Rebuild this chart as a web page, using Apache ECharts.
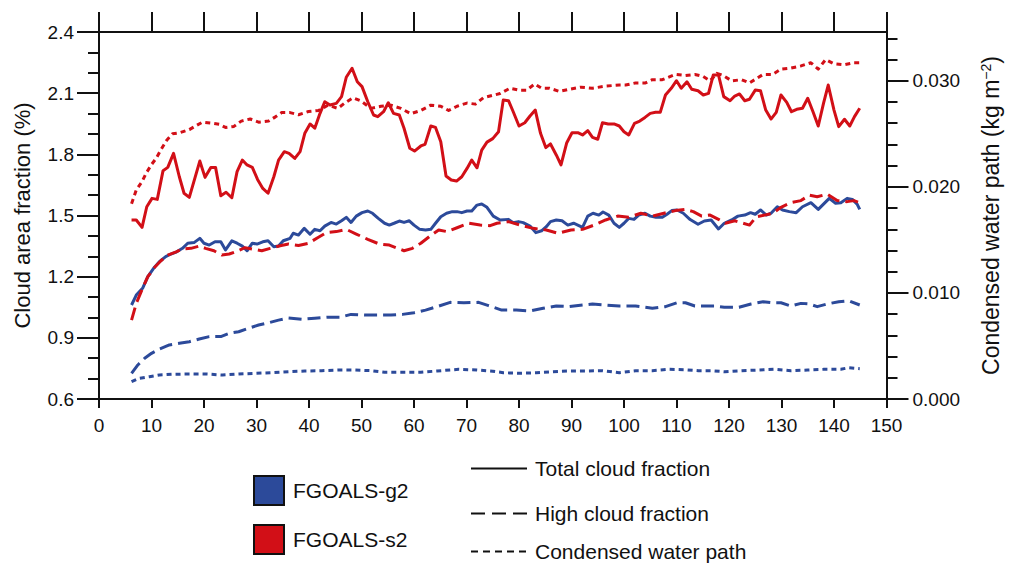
<!DOCTYPE html>
<html>
<head>
<meta charset="utf-8">
<script src="https://cdn.jsdelivr.net/npm/echarts@6/dist/echarts.min.js"></script>
<style>
  html, body { margin: 0; padding: 0; background: #ffffff; }
  #chart { width: 1010px; height: 566px; }
</style>
</head>
<body>
<div id="chart"></div>
<script>
// Model years on the x axis, cloud fractions (%) on the left axis,
// condensed water path (kg m-2) on the right axis.
const modelNames = ['FGOALS-g2', 'FGOALS-s2'];
const lineKinds = ['Total cloud fraction', 'High cloud fraction', 'Condensed water path'];

const xTicks = [0, 150, 10];                 // min, max, step
const cloudTicks = [0.6, 2.4, 0.3];          // min, max, step
const cloudMinorStep = 0.1;
const cwpTickValues = [0, 0.01, 0.02, 0.03];
const cwpMinorStep = 0.002;
const cwpMax = 0.0346;

// FGOALS-g2
const g2Total = [[6.2,1.061],[7.1,1.110],[8.3,1.143],[9.3,1.200],[10.4,1.241],[11.5,1.273],[12.7,1.298],[13.7,1.311],[14.8,1.322],[15.9,1.339],[16.9,1.364],[18.1,1.367],[19.2,1.388],[20.0,1.364],[21.0,1.355],[22.1,1.371],[23.2,1.371],[24.1,1.331],[25.3,1.376],[26.3,1.364],[27.3,1.350],[28.2,1.327],[29.2,1.364],[30.1,1.360],[31.2,1.371],[32.2,1.376],[33.3,1.347],[34.2,1.350],[35.1,1.376],[36.4,1.388],[37.0,1.413],[38.0,1.404],[39.1,1.437],[40.2,1.408],[41.1,1.432],[42.1,1.425],[43.0,1.448],[44.2,1.466],[45.2,1.458],[46.2,1.474],[47.1,1.491],[48.0,1.466],[49.0,1.497],[50.1,1.514],[51.2,1.522],[52.1,1.511],[53.2,1.486],[54.4,1.462],[55.3,1.453],[56.2,1.462],[57.2,1.473],[58.1,1.466],[59.1,1.474],[60.0,1.453],[61.1,1.432],[62.2,1.429],[63.2,1.432],[64.1,1.462],[65.1,1.494],[66.2,1.511],[67.3,1.519],[68.2,1.519],[69.1,1.514],[70.1,1.522],[71.0,1.522],[72.0,1.551],[72.9,1.556],[73.9,1.540],[75.1,1.497],[76.4,1.478],[78.0,1.481],[78.9,1.465],[79.9,1.470],[80.8,1.465],[82.1,1.448],[83.2,1.416],[84.3,1.425],[85.2,1.445],[86.0,1.470],[87.1,1.478],[88.2,1.474],[89.3,1.453],[90.4,1.462],[91.2,1.453],[92.1,1.442],[93.1,1.497],[94.1,1.511],[95.2,1.502],[96.0,1.517],[97.1,1.502],[98.1,1.462],[99.1,1.442],[100.0,1.462],[100.9,1.486],[101.9,1.481],[102.8,1.502],[104.0,1.511],[105.0,1.497],[106.1,1.491],[107.3,1.491],[108.2,1.506],[109.1,1.524],[110.1,1.527],[111.3,1.511],[112.6,1.480],[114.1,1.457],[115.3,1.473],[116.6,1.478],[118.0,1.434],[119.1,1.462],[120.5,1.478],[121.7,1.497],[123.0,1.502],[124.1,1.514],[125.0,1.506],[126.0,1.527],[127.1,1.502],[128.0,1.511],[129.2,1.543],[130.2,1.527],[131.5,1.519],[132.8,1.514],[134.0,1.543],[135.6,1.563],[137.0,1.530],[138.0,1.556],[139.1,1.584],[140.3,1.560],[141.3,1.563],[142.5,1.584],[143.5,1.579],[144.4,1.556],[144.9,1.530]];
const g2High = [[6.2,0.726],[7.4,0.767],[8.7,0.800],[10.0,0.824],[11.5,0.845],[13.4,0.865],[15.3,0.873],[17.2,0.881],[19.1,0.894],[21.0,0.906],[23.2,0.906],[24.8,0.922],[26.6,0.930],[28.5,0.947],[30.4,0.963],[32.3,0.974],[34.2,0.987],[36.1,0.997],[38.6,0.991],[41.1,0.996],[43.6,1.001],[45.9,1.001],[48.0,1.015],[50.6,1.012],[53.1,1.012],[55.6,1.012],[57.8,1.015],[60.0,1.023],[62.2,1.036],[64.4,1.053],[66.9,1.074],[69.5,1.072],[72.3,1.074],[74.2,1.058],[76.7,1.036],[79.5,1.036],[82.1,1.032],[84.6,1.045],[87.1,1.056],[89.6,1.053],[92.1,1.061],[94.0,1.066],[96.5,1.061],[99.1,1.056],[102.2,1.056],[105.4,1.045],[107.9,1.053],[110.1,1.072],[111.7,1.072],[113.5,1.056],[115.3,1.056],[117.2,1.056],[119.1,1.050],[121.9,1.050],[124.2,1.066],[126.5,1.077],[128.3,1.072],[129.9,1.072],[131.8,1.056],[133.7,1.069],[135.3,1.066],[136.8,1.053],[138.7,1.066],[140.9,1.077],[142.8,1.082],[144.9,1.061]];
const g2Cwp = [[6.2,0.00163],[7.7,0.00195],[9.6,0.00210],[11.5,0.00226],[14.0,0.00233],[17.2,0.00236],[20.3,0.00236],[23.5,0.00226],[26.6,0.00236],[29.8,0.00242],[32.9,0.00248],[36.1,0.00257],[39.2,0.00264],[42.4,0.00267],[45.5,0.00273],[48.7,0.00273],[51.8,0.00267],[54.4,0.00252],[57.5,0.00252],[61.3,0.00252],[64.4,0.00264],[68.5,0.00280],[72.0,0.00273],[75.0,0.00262],[77.0,0.00248],[80.2,0.00242],[83.3,0.00248],[86.5,0.00257],[89.6,0.00264],[92.8,0.00264],[95.9,0.00267],[99.1,0.00248],[102.2,0.00267],[105.4,0.00267],[108.5,0.00280],[111.7,0.00276],[114.2,0.00267],[116.7,0.00267],[119.2,0.00257],[122.4,0.00267],[125.5,0.00273],[128.7,0.00280],[131.8,0.00267],[135.0,0.00273],[138.1,0.00280],[141.3,0.00280],[142.8,0.00295],[144.9,0.00286]];

// FGOALS-s2
const s2Total = [[6.2,1.478],[7.1,1.478],[8.2,1.442],[9.1,1.543],[10.1,1.584],[11.1,1.579],[12.2,1.720],[13.1,1.736],[14.2,1.805],[15.3,1.690],[16.2,1.609],[17.2,1.589],[19.2,1.767],[20.2,1.687],[21.3,1.736],[22.2,1.736],[23.2,1.597],[24.2,1.614],[25.3,1.587],[26.3,1.715],[27.3,1.772],[28.2,1.748],[29.2,1.736],[30.2,1.677],[31.2,1.633],[32.2,1.609],[33.3,1.690],[34.2,1.772],[35.3,1.813],[36.2,1.805],[37.3,1.780],[38.3,1.813],[39.2,1.903],[40.2,1.949],[41.1,1.928],[42.1,2.001],[43.0,2.058],[44.0,2.042],[45.2,2.050],[46.2,2.083],[47.1,2.178],[48.2,2.222],[49.2,2.156],[50.1,2.132],[51.2,2.058],[52.3,1.993],[53.1,1.985],[54.2,2.009],[55.1,2.053],[56.1,2.001],[57.2,1.993],[58.1,1.928],[59.2,1.830],[60.1,1.816],[61.3,1.841],[62.1,1.849],[63.2,1.939],[64.1,1.932],[65.1,1.862],[66.1,1.694],[67.1,1.674],[68.1,1.669],[69.1,1.690],[70.1,1.731],[71.0,1.772],[72.0,1.734],[72.9,1.821],[73.9,1.860],[75.0,1.877],[76.1,1.911],[77.0,2.066],[78.0,2.063],[78.9,2.009],[80.0,1.939],[81.1,1.955],[82.1,1.988],[83.1,2.017],[84.1,1.903],[85.1,1.833],[86.0,1.851],[87.1,1.797],[88.0,1.748],[89.1,1.857],[90.1,1.906],[91.2,1.906],[92.1,1.895],[93.1,1.916],[94.0,1.883],[95.0,1.874],[95.9,1.955],[97.0,1.949],[98.1,1.949],[99.1,1.939],[100.0,1.911],[100.9,1.895],[102.0,1.952],[103.0,1.963],[104.0,1.981],[105.0,2.001],[106.0,2.006],[106.9,2.006],[107.9,2.091],[109.0,2.124],[110.0,2.161],[110.9,2.124],[112.0,2.156],[112.9,2.119],[114.1,2.112],[115.1,2.091],[116.1,2.099],[117.0,2.189],[118.0,2.189],[119.0,2.083],[120.2,2.063],[121.1,2.086],[122.0,2.096],[123.0,2.063],[123.9,2.070],[125.0,2.115],[126.0,2.112],[127.0,2.017],[128.0,1.973],[129.0,2.006],[129.9,2.091],[131.0,2.055],[131.9,2.009],[132.9,2.021],[134.0,2.026],[135.0,2.075],[136.0,2.009],[137.0,1.939],[138.0,2.050],[138.9,2.140],[140.0,2.017],[140.9,1.936],[142.0,1.972],[143.0,1.939],[143.9,1.985],[144.9,2.026]];
const s2High = [[6.2,0.987],[7.1,1.069],[8.3,1.143],[9.3,1.200],[10.6,1.246],[11.8,1.278],[13.1,1.306],[14.7,1.322],[15.9,1.336],[17.5,1.339],[19.1,1.350],[20.3,1.339],[21.9,1.327],[23.4,1.306],[24.8,1.311],[26.0,1.322],[27.8,1.342],[29.5,1.334],[31.0,1.327],[32.6,1.339],[34.5,1.352],[36.1,1.360],[38.0,1.353],[39.9,1.364],[41.8,1.393],[43.3,1.416],[45.2,1.421],[47.1,1.432],[49.0,1.409],[51.2,1.383],[53.4,1.360],[55.3,1.355],[56.9,1.339],[58.1,1.327],[59.7,1.339],[61.3,1.364],[62.9,1.396],[64.7,1.429],[66.3,1.421],[68.2,1.440],[70.4,1.462],[72.6,1.453],[74.5,1.450],[75.8,1.462],[78.0,1.470],[80.2,1.453],[82.7,1.437],[85.2,1.429],[87.4,1.413],[89.9,1.429],[92.1,1.432],[94.3,1.453],[96.5,1.478],[98.8,1.497],[100.9,1.491],[103.2,1.511],[105.4,1.497],[107.6,1.511],[109.8,1.524],[111.7,1.530],[113.2,1.519],[114.8,1.497],[116.4,1.502],[118.0,1.481],[119.3,1.462],[121.1,1.474],[122.7,1.462],[123.9,1.453],[125.2,1.494],[126.8,1.502],[128.3,1.511],[129.9,1.540],[131.8,1.563],[133.7,1.573],[135.3,1.600],[136.8,1.592],[138.7,1.605],[140.6,1.573],[142.5,1.568],[143.8,1.573],[144.9,1.563]];
const s2Cwp = [[6.2,0.0184],[7.1,0.0197],[8.2,0.0205],[9.0,0.0213],[10.0,0.0221],[10.9,0.0227],[11.8,0.0235],[12.9,0.0244],[14.0,0.0250],[15.3,0.0251],[17.2,0.0254],[18.6,0.0258],[19.7,0.0261],[21.6,0.0260],[22.9,0.0259],[24.1,0.0256],[25.7,0.0257],[27.1,0.0262],[28.8,0.0264],[30.4,0.0261],[32.3,0.0262],[33.6,0.0266],[34.8,0.0270],[36.4,0.0270],[38.0,0.0268],[39.9,0.0271],[41.8,0.0272],[43.6,0.0277],[45.5,0.0274],[46.8,0.0279],[48.4,0.0284],[49.9,0.0281],[51.8,0.0274],[53.7,0.0276],[55.6,0.0277],[57.5,0.0274],[59.4,0.0269],[61.3,0.0272],[63.2,0.0277],[65.1,0.0276],[66.6,0.0272],[68.2,0.0276],[70.1,0.0279],[71.7,0.0278],[73.2,0.0284],[76.4,0.0288],[78.3,0.0293],[80.2,0.0291],[81.4,0.0291],[83.0,0.0297],[84.3,0.0293],[85.8,0.0293],[87.7,0.0290],[89.6,0.0292],[91.8,0.0294],[94.0,0.0293],[96.5,0.0295],[99.1,0.0296],[100.3,0.0296],[102.2,0.0298],[104.1,0.0298],[105.4,0.0301],[107.3,0.0301],[109.8,0.0306],[111.7,0.0305],[113.5,0.0306],[115.1,0.0304],[116.4,0.0300],[117.7,0.0307],[118.9,0.0305],[120.5,0.0300],[122.4,0.0301],[123.9,0.0298],[126.5,0.0306],[128.3,0.0306],[129.9,0.0311],[131.8,0.0312],[133.7,0.0314],[135.6,0.0317],[137.0,0.0311],[138.4,0.0320],[140.0,0.0316],[141.9,0.0315],[143.8,0.0317],[144.9,0.0317]];

const BLUE = '#2c4a9a';
const RED = '#d20f17';
const INK = '#111111';
const FONT = '"Liberation Sans", Arial, sans-serif';

// dash patterns per quantity (plot lines and legend samples)
const DASH = { total: 'solid', high: [13, 6], cwp: [5, 4] };
const LEGEND_DASH = { total: 'solid', high: [14, 7], cwp: [7, 5] };

// explicit tick positions for every axis
function stepValues(from, to, step, digits) {
  const out = [];
  const n = Math.round((to - from) / step);
  for (let i = 0; i <= n; i++) out.push(+(from + i * step).toFixed(digits));
  return out;
}
const xMajor = stepValues(xTicks[0], xTicks[1], xTicks[2], 0);
const cloudMajor = stepValues(cloudTicks[0], cloudTicks[1], cloudTicks[2], 1);
const cloudMinor = stepValues(cloudTicks[0], cloudTicks[1], cloudMinorStep, 1);
const cwpMinor = stepValues(0, 0.034, cwpMinorStep, 3);

function dataSeries(name, data, color, dash, yIndex) {
  return {
    name: name, type: 'line', data: data, xAxisIndex: 0, yAxisIndex: yIndex,
    symbol: 'none', silent: true, animation: false,
    lineStyle: { color: color, width: 3, type: dash, cap: 'butt', join: 'round' },
    itemStyle: { color: color }
  };
}
function legendOnly(name, color, dash) {
  return {
    name: name, type: 'line', data: [], symbol: 'none', animation: false,
    lineStyle: { color: color, width: 2, type: dash },
    itemStyle: { color: color }
  };
}

const axisLine = { show: true, onZero: false, lineStyle: { color: INK, width: 2 } };
const tickStyle = { color: INK, width: 2 };
const noTicks = { show: false };
const noLabels = { show: false };
const noSplit = { show: false };
const ticks = (length, values) => ({ show: true, inside: false, length: length, customValues: values, lineStyle: tickStyle });

// unlabeled axis used only to draw a set of tick marks
function tickAxis(position, min, max, length, values) {
  return {
    type: 'value', position: position, min: min, max: max,
    axisLine: axisLine, axisLabel: noLabels, splitLine: noSplit,
    axisTick: ticks(length, values)
  };
}

const lineLegend = (name, top) => ({
  orient: 'vertical', left: 470, top: top, padding: 0,
  itemWidth: 56, itemHeight: 14, selectedMode: false,
  itemStyle: { color: 'transparent', borderWidth: 0, opacity: 0 },
  textStyle: { fontSize: 21, color: INK, fontFamily: FONT, padding: [0, 0, 0, 3] },
  data: [name]
});

const option = {
  backgroundColor: '#ffffff',
  animation: false,
  textStyle: { fontFamily: FONT, color: INK },
  grid: { left: 99, right: 117, top: 32, bottom: 167, containLabel: false },
  xAxis: [
    { // bottom: labels
      type: 'value', position: 'bottom', min: xTicks[0], max: xTicks[1], interval: xTicks[2],
      axisLine: axisLine, axisTick: noTicks, splitLine: noSplit,
      axisLabel: { fontSize: 19, color: INK, margin: 17, fontFamily: FONT }
    },
    tickAxis('bottom', xTicks[0], xTicks[1], 9, xMajor),
    tickAxis('top', xTicks[0], xTicks[1], 20, xMajor)
  ],
  yAxis: [
    { // left: labels and title
      type: 'value', position: 'left', min: cloudTicks[0], max: cloudTicks[1], interval: cloudTicks[2],
      name: 'Cloud area fraction (%)', nameLocation: 'middle', nameGap: 66,
      nameTextStyle: { fontSize: 22, color: INK, fontFamily: FONT },
      axisLine: axisLine, axisTick: noTicks, splitLine: noSplit,
      axisLabel: { fontSize: 19, color: INK, margin: 25, fontFamily: FONT,
                   formatter: v => v.toFixed(1) }
    },
    { // right: labels and title
      type: 'value', position: 'right', min: 0, max: cwpMax,
      name: 'Condensed water path (kg m{sup|\u22122})', nameLocation: 'middle', nameGap: 92,
      nameRotate: 90,
      nameTextStyle: {
        fontSize: 23, color: INK, fontFamily: FONT,
        rich: { sup: { fontSize: 14, color: INK, fontFamily: FONT, verticalAlign: 'top', padding: [0, 0, 10, 0] } }
      },
      axisLine: axisLine, axisTick: noTicks, splitLine: noSplit,
      axisLabel: { fontSize: 19, color: INK, margin: 26, fontFamily: FONT,
                   customValues: cwpTickValues, formatter: v => v.toFixed(3) }
    },
    tickAxis('left', cloudTicks[0], cloudTicks[1], 11, cloudMinor),
    tickAxis('left', cloudTicks[0], cloudTicks[1], 22, cloudMajor),
    tickAxis('right', 0, cwpMax, 11, cwpMinor),
    tickAxis('right', 0, cwpMax, 22, cwpTickValues)
  ],
  legend: [
    {
      orient: 'vertical', left: 253, top: 475, padding: 0,
      itemWidth: 30, itemHeight: 29, itemGap: 18, selectedMode: false,
      textStyle: { fontSize: 21, color: INK, fontFamily: FONT, padding: [0, 0, 0, 4] },
      data: [
        { name: modelNames[0], icon: 'rect', itemStyle: { color: BLUE, borderColor: INK, borderWidth: 2 } },
        { name: modelNames[1], icon: 'rect', itemStyle: { color: RED, borderColor: INK, borderWidth: 2 } }
      ]
    },
    lineLegend(lineKinds[0], 458),
    lineLegend(lineKinds[1], 503),
    lineLegend(lineKinds[2], 541)
  ],
  series: [
    legendOnly(modelNames[0], BLUE, 'solid'),
    legendOnly(modelNames[1], RED, 'solid'),
    legendOnly(lineKinds[0], INK, LEGEND_DASH.total),
    legendOnly(lineKinds[1], INK, LEGEND_DASH.high),
    legendOnly(lineKinds[2], INK, LEGEND_DASH.cwp),
    dataSeries('FGOALS-g2 high cloud', g2High, BLUE, DASH.high, 0),
    dataSeries('FGOALS-g2 water path', g2Cwp, BLUE, DASH.cwp, 1),
    dataSeries('FGOALS-g2 total cloud', g2Total, BLUE, DASH.total, 0),
    dataSeries('FGOALS-s2 high cloud', s2High, RED, DASH.high, 0),
    dataSeries('FGOALS-s2 water path', s2Cwp, RED, DASH.cwp, 1),
    dataSeries('FGOALS-s2 total cloud', s2Total, RED, DASH.total, 0)
  ]
};

const chart = echarts.init(document.getElementById('chart'), null, { renderer: 'svg' });
chart.setOption(option);
</script>
</body>
</html>
